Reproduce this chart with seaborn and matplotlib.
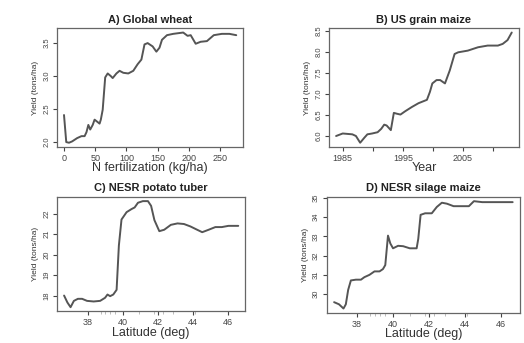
import pandas as pd
import seaborn as sns
import matplotlib.pyplot as plt

# --- DATA ---
wheat_n = [0, 3.6, 8, 13, 21, 28, 33, 36, 39, 42, 46, 49, 53, 57, 59, 62, 66, 70, 75, 78,
           84, 89, 95, 103, 111, 118, 124, 129, 134, 142, 148, 153, 157, 165, 175, 191,
           198, 203, 211, 219, 229, 240, 253, 265, 276]
wheat_yield = [2.41, 2.0, 1.99, 2.01, 2.06, 2.09, 2.09, 2.15, 2.26, 2.19, 2.26, 2.34, 2.31,
               2.28, 2.34, 2.49, 2.98, 3.04, 3.0, 2.97, 3.04, 3.08, 3.05, 3.04, 3.08, 3.18,
               3.25, 3.48, 3.5, 3.45, 3.37, 3.43, 3.55, 3.62, 3.64, 3.66, 3.61, 3.62, 3.49,
               3.52, 3.53, 3.62, 3.64, 3.64, 3.62]

maize_year = [1983.9, 1985, 1985.8, 1986.6, 1987.2, 1987.9, 1988.6, 1989.1, 1989.9, 1990.8,
              1991.4, 1991.9, 1992.3, 1993, 1993.5, 1994, 1994.6, 1995.4, 1996.5, 1997.6,
              1999, 1999.5, 1999.9, 2000.6, 2001.2, 2002, 2002.8, 2003.6, 2004.2, 2005.8,
              2007.5, 2009.1, 2010.8, 2011.6, 2012.4, 2013.1]
maize_yield = [6.0, 6.06, 6.05, 6.04, 6.0, 5.84, 5.96, 6.04, 6.06, 6.09, 6.17, 6.27, 6.25,
               6.14, 6.55, 6.53, 6.51, 6.59, 6.69, 6.78, 6.86, 7.05, 7.25, 7.33, 7.33, 7.25,
               7.56, 7.95, 7.99, 8.03, 8.11, 8.15, 8.15, 8.19, 8.28, 8.46]

potato_lat = [36.65, 36.84, 37.02, 37.21, 37.44, 37.68, 37.96, 38.34, 38.71, 38.99, 39.13,
              39.28, 39.46, 39.65, 39.78, 39.93, 40.22, 40.5, 40.68, 40.87, 41.15, 41.44,
              41.62, 41.81, 42.09, 42.37, 42.75, 43.13, 43.5, 43.87, 44.25, 44.54, 44.91,
              45.29, 45.66, 46.04, 46.6]
potato_yield = [18.0, 17.66, 17.43, 17.74, 17.84, 17.84, 17.74, 17.71, 17.74, 17.89, 18.05,
                17.97, 18.05, 18.28, 20.45, 21.72, 22.08, 22.23, 22.31, 22.54, 22.62, 22.62,
                22.39, 21.69, 21.15, 21.22, 21.46, 21.53, 21.5, 21.38, 21.22, 21.1, 21.22,
                21.35, 21.35, 21.41, 21.41]

silage_lat = [36.73, 37.0, 37.25, 37.38, 37.51, 37.66, 37.94, 38.22, 38.41, 38.69, 38.97,
              39.25, 39.44, 39.57, 39.72, 39.85, 40.0, 40.28, 40.56, 40.93, 41.31, 41.4,
              41.53, 41.78, 42.15, 42.43, 42.71, 42.99, 43.36, 43.83, 44.21, 44.49, 44.95,
              45.7, 46.64]
silage_yield = [29.58, 29.47, 29.25, 29.47, 30.22, 30.71, 30.75, 30.75, 30.88, 31.0, 31.18,
                31.18, 31.3, 31.51, 33.04, 32.63, 32.38, 32.51, 32.49, 32.38, 32.38, 32.87,
                34.12, 34.2, 34.2, 34.53, 34.75, 34.7, 34.57, 34.57, 34.57, 34.83, 34.78,
                34.78, 34.78]

# faint rug of site latitudes under the NESR panels
site_lat = [38.74, 39.0, 39.25, 39.56, 40.94, 41.78, 42.3, 42.9, 44.1]

lat_ticks = [38, 40, 42, 44, 46]
lat_labels = ["38", "40", "42", "44", "46"]

panels = [
    ("A) Global wheat", "N fertilization (kg/ha)", wheat_n, wheat_yield,
     [0, 50, 100, 150, 200, 250], ["0", "50", "100", "150", "200", "250"],
     [2.0, 2.5, 3.0, 3.5], ["2.0", "2.5", "3.0", "3.5"], None,
     [0.109, 0.571, 0.355, 0.347]),
    ("B) US grain maize", "Year", maize_year, maize_yield,
     [1985, 1990, 1995, 2000, 2005, 2010], ["1985", "", "1995", "", "2005", ""],
     [6.0, 6.5, 7.0, 7.5, 8.0, 8.5], ["6.0", "6.5", "7.0", "7.5", "8.0", "8.5"], None,
     [0.628, 0.571, 0.362, 0.347]),
    ("C) NESR potato tuber", "Latitude (deg)", potato_lat, potato_yield,
     lat_ticks, lat_labels,
     [18, 19, 20, 21, 22], ["18", "19", "20", "21", "22"], site_lat,
     [0.109, 0.092, 0.359, 0.334]),
    ("D) NESR silage maize", "Latitude (deg)", silage_lat, silage_yield,
     lat_ticks, lat_labels,
     [30, 31, 32, 33, 34, 35], ["30", "31", "32", "33", "34", "35"], site_lat,
     [0.624, 0.088, 0.368, 0.338]),
]

sns.set_theme(style="white")
plt.rcParams['font.family'] = ['Liberation Sans', 'DejaVu Sans']

fig = plt.figure(figsize=(5.24, 3.43), dpi=100)

for title, xlab, xs, ys, xticks, xlabels, yticks, ylabels, rug, pos in panels:
    ax = fig.add_axes(pos)
    df = pd.DataFrame({"x": xs, "y": ys})
    sns.lineplot(data=df, x="x", y="y", ax=ax, color="#555555", linewidth=1.4)
    ax.margins(x=0.04, y=0.04)
    ax.set_xticks(xticks)
    ax.set_xticklabels(xlabels)
    if rug is not None:
        ax.set_xticks(rug, minor=True)
        ax.tick_params(axis="x", which="minor", direction="out", length=2, width=0.7,
                       colors="#bbbbbb", bottom=True)
    ax.set_yticks(yticks)
    ax.set_yticklabels(ylabels, rotation=90, va="center")
    ax.tick_params(axis="both", which="major", direction="out", length=3, width=0.8,
                   colors="#444444", pad=2, bottom=True, left=True)
    ax.tick_params(axis="x", which="major", labelsize=6.5)
    ax.tick_params(axis="y", which="major", labelsize=5.5)
    for s in ax.spines.values():
        s.set_color("#666666")
        s.set_linewidth(0.9)
    ax.set_title(title, fontsize=8, fontweight="bold", pad=4, color="#222222")
    ax.set_xlabel(xlab, fontsize=9, labelpad=-0.5, color="#333333")
    ax.set_ylabel("Yield (tons/ha)", fontsize=6, labelpad=3, color="#333333")

fig.savefig("out.png", dpi=100)
